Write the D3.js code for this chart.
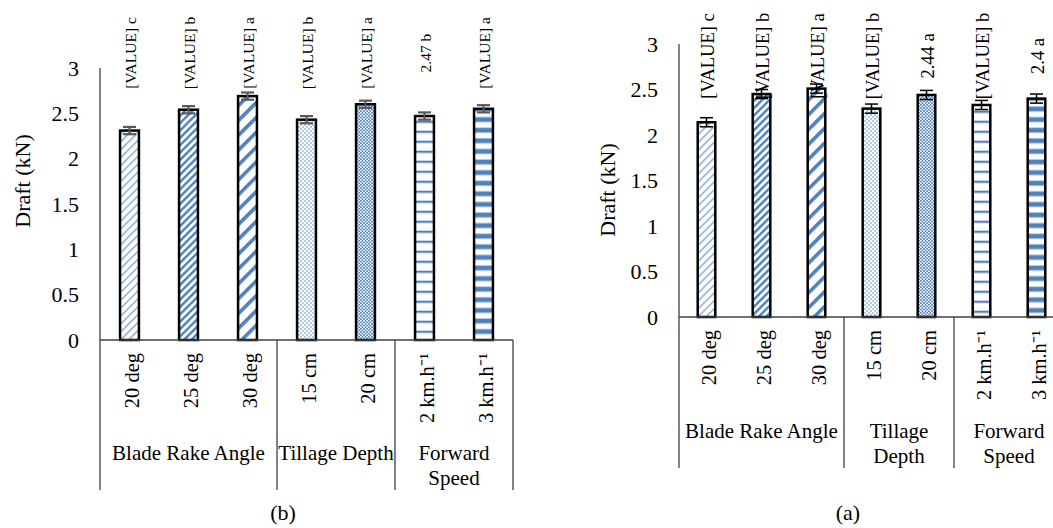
<!DOCTYPE html>
<html>
<head>
<meta charset="utf-8">
<script src="https://cdn.jsdelivr.net/npm/d3@7"></script>
<style>
  body { margin: 0; background: #fff; }
  svg text { font-family: "Liberation Serif", Tinos, "Times New Roman", serif !important; fill: #000; }
</style>
</head>
<body>
<svg id="chart"></svg>
<script>
var svgWidth = 1053;
var svgHeight = 528;

// treatment levels and the factor each one belongs to
var levels = ["20 deg", "25 deg", "30 deg", "15 cm", "20 cm", "2 km.h\u207B\u00B9", "3 km.h\u207B\u00B9"];
var groupNames = ["Blade Rake Angle", "Tillage Depth", "Forward Speed"];
var groupSizes = [3, 2, 2];
var yTicks = [0, 0.5, 1, 1.5, 2, 2.5, 3];

// panel (b)
var draftB = [2.31, 2.54, 2.69, 2.43, 2.60, 2.47, 2.55];
var errB = [0.04, 0.04, 0.04, 0.04, 0.04, 0.04, 0.04];
var labelsB = ["[VALUE] c", "[VALUE] b", "[VALUE] a", "[VALUE] b", "[VALUE] a", "2.47 b", "[VALUE] a"];

// panel (a)
var draftA = [2.14, 2.45, 2.51, 2.29, 2.44, 2.33, 2.40];
var errA = [0.05, 0.05, 0.05, 0.05, 0.05, 0.05, 0.05];
var labelsA = ["[VALUE] c", "[VALUE] b", "[VALUE] a", "[VALUE] b", "2.44 a", "[VALUE] b", "2.4 a"];

var blue = "#4F81BD";
var lightBlue = "#8FB1DC";

var svg = d3.select("#chart")
  .attr("width", svgWidth)
  .attr("height", svgHeight);

var defs = svg.append("defs");

// pattern fills, one per level
function stripePattern(id, period, thick, color, angle) {
  var p = defs.append("pattern")
    .attr("id", id)
    .attr("patternUnits", "userSpaceOnUse")
    .attr("width", period)
    .attr("height", period)
    .attr("patternTransform", "rotate(" + angle + ")");
  p.append("rect").attr("width", period).attr("height", period).attr("fill", "#fff");
  p.append("rect").attr("x", 0).attr("y", 0)
    .attr("width", thick).attr("height", period)
    .attr("fill", color);
}
stripePattern("p0", 5.6, 1.6, lightBlue, 45);
stripePattern("p1", 5.2, 2.4, blue, 45);
stripePattern("p2", 10.5, 3.6, blue, 45);

function dotPattern(id, size, r, color, offset) {
  var p = defs.append("pattern")
    .attr("id", id)
    .attr("patternUnits", "userSpaceOnUse")
    .attr("width", size)
    .attr("height", size);
  p.append("rect").attr("width", size).attr("height", size).attr("fill", "#fff");
  p.append("circle").attr("cx", size / 4).attr("cy", size / 4).attr("r", r).attr("fill", color);
  if (offset) {
    p.append("circle").attr("cx", size * 3 / 4).attr("cy", size * 3 / 4).attr("r", r).attr("fill", color);
  }
}
dotPattern("p3", 4, 0.9, lightBlue, true);
dotPattern("p4", 3.2, 0.95, blue, true);

function hLinePattern(id, period, thick, color, halo) {
  var p = defs.append("pattern")
    .attr("id", id)
    .attr("patternUnits", "userSpaceOnUse")
    .attr("width", period)
    .attr("height", period);
  p.append("rect").attr("width", period).attr("height", period).attr("fill", "#fff");
  p.append("rect").attr("y", 0).attr("width", period).attr("height", thick + 2).attr("fill", halo);
  p.append("rect").attr("y", 1).attr("width", period).attr("height", thick).attr("fill", color);
}
hLinePattern("p5", 10, 1.6, blue, "#C6D7EE");
hLinePattern("p6", 10.6, 4, blue, "#B3C9E6");

var fills = ["url(#p0)", "url(#p1)", "url(#p2)", "url(#p3)", "url(#p4)", "url(#p5)", "url(#p6)"];

var panels = [
  { values: draftB, errs: errB, labels: labelsB, left: 100, step: 59, top: 68, bottom: 340,
    labelSize: 15.5, labelY: 53, errColor: "#595959", errWidth: 2.2,
    titleX: 22, titleY: 181, caption: "(b)", captionX: 283, groupY: 453, sepBottom: 490 },
  { values: draftA, errs: errA, labels: labelsA, left: 679, step: 55, top: 44, bottom: 317,
    labelSize: 18.5, labelY: 56, errColor: "#000", errWidth: 1.5,
    titleX: 607, titleY: 190, caption: "(a)", captionX: 848, groupY: 431, sepBottom: 468 }
];

panels.forEach(function(cfg) {
  var g = svg.append("g");
  var right = cfg.left + cfg.step * levels.length;

  var x = d3.scaleBand()
    .domain(levels)
    .range([cfg.left, right]);

  var y = d3.scaleLinear()
    .domain([0, 3])
    .range([cfg.bottom, cfg.top]);

  // y axis
  var yAxis = g.append("g")
    .attr("transform", "translate(" + cfg.left + ",0)")
    .call(d3.axisLeft(y).tickValues(yTicks).tickSize(0).tickPadding(21).tickFormat(d3.format("~g")));
  yAxis.select(".domain").remove();
  yAxis.attr("font-family", null).attr("font-size", null);
  yAxis.selectAll("text")
    .style("font-size", "22px")
    .attr("fill", "#000");

  g.append("text")
    .attr("transform", "translate(" + cfg.titleX + "," + cfg.titleY + ") rotate(-90)")
    .attr("text-anchor", "middle")
    .attr("dominant-baseline", "central")
    .style("font-size", "22px")
    .text("Draft (kN)");

  // bars
  var barW = cfg.step * 0.32;
  g.selectAll(".bar")
    .data(cfg.values)
    .enter()
    .append("rect")
      .attr("x", function(d, i) { return x(levels[i]) + x.bandwidth() / 2 - barW / 2; })
      .attr("y", function(d) { return y(d); })
      .attr("width", barW)
      .attr("height", function(d) { return y(0) - y(d); })
      .attr("fill", function(d, i) { return fills[i]; })
      .attr("stroke", "#000")
      .attr("stroke-width", 2.5);

  // error bars
  var capW = 6.5;
  cfg.values.forEach(function(v, i) {
    var cx = x(levels[i]) + x.bandwidth() / 2;
    var e = cfg.errs[i];
    var eb = g.append("g")
      .attr("stroke", cfg.errColor)
      .attr("stroke-width", cfg.errWidth);
    eb.append("line").attr("x1", cx).attr("x2", cx).attr("y1", y(v + e)).attr("y2", y(v - e));
    eb.append("line").attr("x1", cx - capW).attr("x2", cx + capW).attr("y1", y(v + e)).attr("y2", y(v + e));
    eb.append("line").attr("x1", cx - capW).attr("x2", cx + capW).attr("y1", y(v - e)).attr("y2", y(v - e));
  });

  // value labels
  g.selectAll(".vlabel")
    .data(cfg.labels)
    .enter()
    .append("text")
      .attr("transform", function(d, i) {
        return "translate(" + (x(levels[i]) + x.bandwidth() / 2 + 1) + "," + cfg.labelY + ") rotate(-90)";
      })
      .attr("text-anchor", "middle")
      .attr("dominant-baseline", "central")
      .style("font-size", cfg.labelSize + "px")
      .text(function(d) { return d; });

  // category axis lines
  var axisColor = "#404040";
  g.append("line")
    .attr("x1", cfg.left).attr("x2", cfg.left)
    .attr("y1", cfg.top).attr("y2", cfg.sepBottom)
    .attr("stroke", axisColor).attr("stroke-width", 1.3);
  g.append("line")
    .attr("x1", cfg.left).attr("x2", right)
    .attr("y1", cfg.bottom).attr("y2", cfg.bottom)
    .attr("stroke", axisColor).attr("stroke-width", 1.3);

  var start = 0;
  groupSizes.forEach(function(n, gi) {
    var x0 = x(levels[start]);
    var x1 = x(levels[start + n - 1]) + x.bandwidth();
    g.append("line")
      .attr("x1", x1).attr("x2", x1)
      .attr("y1", cfg.bottom).attr("y2", cfg.sepBottom)
      .attr("stroke", axisColor).attr("stroke-width", 1.3);

    // group label, wrapped when wider than its span
    var t = g.append("text")
      .attr("text-anchor", "middle")
      .style("font-size", "21px");
    t.text(groupNames[gi]);
    var lines = [groupNames[gi]];
    if (t.node().getComputedTextLength() > (x1 - x0) + 4) {
      lines = groupNames[gi].split(" ");
    }
    t.text(null);
    lines.forEach(function(line, li) {
      t.append("tspan")
        .attr("x", (x0 + x1) / 2)
        .attr("y", cfg.groupY + li * 25)
        .attr("dominant-baseline", "central")
        .text(line);
    });
    start += n;
  });

  // level labels
  g.selectAll(".level")
    .data(levels)
    .enter()
    .append("text")
      .attr("transform", function(d) {
        return "translate(" + (x(d) + x.bandwidth() / 2 + 2) + "," + (cfg.bottom + 13) + ") rotate(-90)";
      })
      .attr("text-anchor", "end")
      .attr("dominant-baseline", "central")
      .style("font-size", "20.5px")
      .text(function(d) { return d; });

  svg.append("text")
    .attr("x", cfg.captionX)
    .attr("y", 512)
    .attr("text-anchor", "middle")
    .attr("dominant-baseline", "central")
    .style("font-size", "22px")
    .text(cfg.caption);
});
</script>
</body>
</html>
